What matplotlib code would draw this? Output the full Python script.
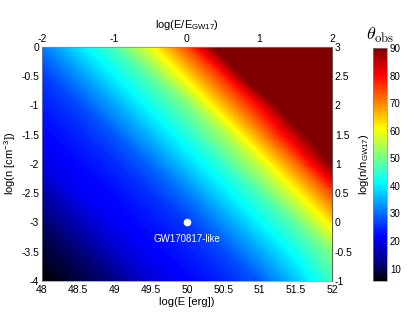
import numpy as np
import matplotlib
matplotlib.use('Agg')
import matplotlib.pyplot as plt
from matplotlib.colors import LinearSegmentedColormap, Normalize
from matplotlib.cm import ScalarMappable

# grid (log E in erg, log n in cm^-3)
log_E = [48, 48.5, 49, 49.5, 50, 50.5, 51, 51.5, 52]
log_n = [-4, -3.5, -3, -2.5, -2, -1.5, -1, -0.5, 0]

# theta_obs [deg], one row per log_n value (bottom to top)
# values >= 90 are saturated in the picture
theta_obs = [
    [5.5, 8.7, 12.0, 18.5, 21.8, 24.2, 28.5, 36.5, 46.0],
    [8.0, 11.3, 17.2, 21.4, 23.7, 27.2, 34.2, 42.2, 51.0],
    [10.7, 15.9, 21.0, 23.1, 26.0, 32.6, 40.7, 48.4, 62.5],
    [14.6, 20.7, 22.5, 25.4, 31.0, 39.1, 46.9, 59.4, 74.3],
    [19.8, 22.1, 24.8, 29.7, 37.5, 45.3, 56.3, 71.4, 90.0],
    [21.8, 24.2, 28.5, 35.8, 43.8, 53.1, 68.5, 85.0, 100],
    [23.7, 27.2, 34.2, 42.2, 50.0, 65.5, 80.0, 100, 100],
    [26.0, 32.6, 40.7, 48.4, 62.5, 77.1, 100, 100, 100],
    [31.0, 39.1, 46.9, 59.4, 74.3, 95.0, 100, 100, 100],
]

# GW170817 reference point
gw_logE = 50
gw_logn = -3
gw_label = 'GW170817-like'

theta_min, theta_max = 5.5, 90
cbar_ticks = [10, 20, 30, 40, 50, 60, 70, 80, 90]

plt.rcParams['font.family'] = ['Liberation Sans', 'DejaVu Sans']
plt.rcParams['mathtext.fontset'] = 'custom'
plt.rcParams['mathtext.rm'] = 'Liberation Sans'
plt.rcParams['mathtext.it'] = 'Liberation Sans:italic'

# jet with a black foot
stops = [(5.5, (0, 0, 0)), (12, (0, 0, 0.5)), (21.75, (0, 0, 1)),
         (41.25, (0, 1, 1)), (60.75, (1, 1, 0)), (80.25, (1, 0, 0)),
         (90, (0.5, 0, 0))]
cmap = LinearSegmentedColormap.from_list(
    'jetblack', [((t - theta_min) / (theta_max - theta_min), c) for t, c in stops])
cmap.set_over((0.5, 0, 0))
norm = Normalize(theta_min, theta_max)

fig = plt.figure(figsize=(4.15, 3.12), dpi=100)
ax = fig.add_axes([0.101, 0.0994, 0.699, 0.7506])
cax = fig.add_axes([0.899, 0.0994, 0.034, 0.747])

levels = np.arange(theta_min, theta_max + 0.01, 0.5)
cs = ax.contourf(log_E, log_n, np.array(theta_obs), levels=levels, cmap=cmap,
                 norm=norm, extend='max')

ax.plot(gw_logE, gw_logn, 'o', color='white', markersize=5.5, markeredgewidth=0)
ax.text(gw_logE, gw_logn - 0.28, gw_label, color='white', fontsize=7,
        ha='center', va='center')

ax.set_xlim(48, 52)
ax.set_ylim(-4, 0)
ax.set_xticks(np.arange(48, 52.01, 0.5))
ax.set_xticklabels(['48', '48.5', '49', '49.5', '50', '50.5', '51', '51.5', '52'])
ax.set_yticks(np.arange(-4, 0.01, 0.5))
ax.set_yticklabels(['-4', '-3.5', '-3', '-2.5', '-2', '-1.5', '-1', '-0.5', '0'])
ax.tick_params(axis='x', length=0, labelsize=7.5, pad=3)
ax.tick_params(axis='y', length=0, labelsize=7.5, pad=2)
ax.set_xlabel('log(E [erg])', fontsize=8, labelpad=1)
ax.set_ylabel('log(n [cm$^{-3}$])', fontsize=8, labelpad=2)
for s in ax.spines.values():
    s.set_linewidth(0.5)
    s.set_color('#888888')

top = ax.secondary_xaxis('top', functions=(lambda x: x - 50, lambda x: x + 50))
top.set_xticks([-2, -1, 0, 1, 2])
top.set_xticklabels(['-2', '-1', '0', '1', '2'])
top.tick_params(length=0, labelsize=7.5, pad=2)
top.set_xlabel('log(E/E$_{\\rm GW17}$)', fontsize=8, labelpad=4)

right = ax.secondary_yaxis('right', functions=(lambda y: y + 3, lambda y: y - 3))
right.set_yticks(np.arange(-1, 3.01, 0.5))
right.set_yticklabels(['-1', '-0.5', '0', '0.5', '1', '1.5', '2', '2.5', '3'])
right.tick_params(length=0, labelsize=7.5, pad=2)
right.set_ylabel('log(n/n$_{\\rm GW17}$)', fontsize=8, labelpad=3)

cb = fig.colorbar(ScalarMappable(norm=norm, cmap=cmap), cax=cax, ticks=cbar_ticks)
cb.ax.tick_params(length=0, labelsize=7, pad=2)
cb.outline.set_linewidth(0.5)
cb.outline.set_edgecolor('#888888')
cax.set_title('$\\theta_{\\rm obs}$', fontsize=13, pad=6, math_fontfamily='cm')

fig.savefig('out.png', dpi=100)
